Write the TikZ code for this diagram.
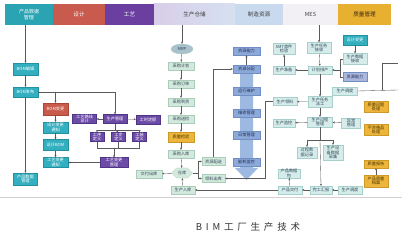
\documentclass[tikz,border=0pt]{standalone}
\usepackage{fontspec}
\setmainfont{Noto Sans CJK SC}
\usetikzlibrary{arrows.meta,shapes.geometric,shapes.symbols}
\definecolor{tfill}{HTML}{33AFC0}\definecolor{tdraw}{HTML}{2390A0}
\definecolor{rfill}{HTML}{C95B4D}\definecolor{rdraw}{HTML}{A84536}
\definecolor{pfill}{HTML}{6C4BA6}\definecolor{pdraw}{HTML}{4F3585}
\definecolor{gfill}{HTML}{D3E9DD}\definecolor{gdraw}{HTML}{A9CDB9}\definecolor{gtext}{HTML}{2F4858}
\definecolor{bfill}{HTML}{8DA9D9}\definecolor{bdraw}{HTML}{6F8FC4}\definecolor{btext}{HTML}{1F2F55}
\definecolor{bandc}{HTML}{9DB9E2}
\definecolor{ofill}{HTML}{EDB53C}\definecolor{odraw}{HTML}{CC9A28}\definecolor{otext}{HTML}{4A3500}
\definecolor{mfill}{HTML}{D5ECEA}\definecolor{mdraw}{HTML}{A5D0CC}
\definecolor{lc}{HTML}{5A5A5A}
\definecolor{h1c}{HTML}{2AA3B3}\definecolor{h2c}{HTML}{C85A4E}\definecolor{h3c}{HTML}{6A3FA0}
\definecolor{h4l}{HTML}{D8CEEA}\definecolor{h4r}{HTML}{D6E0F0}\definecolor{h5c}{HTML}{C9D9EE}
\definecolor{h6c}{HTML}{F2F0F4}\definecolor{h7c}{HTML}{E8B030}
\tikzset{
 base/.style={rectangle, inner sep=0.3pt, align=center, font=\fontsize{4.2}{4.7}\selectfont, line width=0.3pt, minimum height=8pt, minimum width=24pt},
 gbox/.style={base, fill=gfill, draw=gdraw, text=gtext},
 tbox/.style={base, fill=tfill, draw=tdraw, text=white},
 rbox/.style={base, fill=rfill, draw=rdraw, text=white},
 pbox/.style={base, fill=pfill, draw=pdraw, text=white},
 bbox/.style={base, fill=bfill, draw=bdraw, text=btext},
 obox/.style={base, fill=ofill, draw=odraw, text=otext},
 mbox/.style={base, fill=mfill, draw=mdraw, text=gtext},
 hdr/.style={rectangle, inner sep=0pt, minimum height=21pt, align=center, font=\fontsize{5.6}{6.2}\selectfont},
 arr/.style={draw=lc, line width=0.35pt, -{Stealth[length=2.2pt,width=2pt]}},
 ln/.style={draw=lc, line width=0.35pt}
}
\begin{document}
\begin{tikzpicture}[x=1pt,y=-1pt]
\useasboundingbox (0,0) rectangle (409,240);
\fill[white] (0,0) rectangle (409,240);
% header
\node[hdr, fill=h1c, text=white, minimum width=48pt, font=\fontsize{5}{5.6}\selectfont] (h1) at (29,14.5) {产品数据\\管理};
\node[hdr, fill=h2c, text=white!90!pink, minimum width=52pt] (h2) at (79,14.5) {设计};
\node[hdr, fill=h3c, text=white, minimum width=49pt] (h3) at (129.5,14.5) {工艺};
\node[hdr, left color=h4l, right color=h4r, text=black!75, minimum width=81pt] (h4) at (194.5,14.5) {生产仓储};
\node[hdr, fill=h5c, text=black!75, minimum width=48pt] (h5) at (259,14.5) {制造资源};
\node[hdr, fill=h6c, text=black!75, minimum width=55pt] (h6) at (310.5,14.5) {MES};
\node[hdr, fill=h7c, text=black!70!brown, minimum width=53pt] (h7) at (364.5,14.5) {质量管理};
% bottom rule of the picture
\draw[black!18, line width=1.5pt] (0,197.5) -- (402,197.5);
% left column
\node[tbox, minimum width=25pt, minimum height=12pt] (bomE) at (25.5,69) {BOM编辑};
\node[tbox, minimum width=25pt, minimum height=10pt] (bomP) at (25.5,92) {BOM发布};
\node[tbox, minimum width=24pt, minimum height=12pt] (pdm) at (25.5,179) {产品数据\\管理};
\node[rbox, minimum width=25pt, minimum height=12pt] (red) at (55.5,109) {BOM变更};
\node[tbox, minimum width=25pt, minimum height=11pt] (t2) at (55.5,127.5) {设计变更\\通知};
\node[tbox, minimum width=25pt, minimum height=11pt] (t3) at (55.5,145) {设计BOM};
\node[tbox, minimum width=25pt, minimum height=10pt] (t4) at (55.5,162.5) {工艺变更\\通知};
% purple
\node[pbox, minimum height=9pt] (pm) at (115,119) {生产管理};
\node[pbox, minimum height=9pt] (pl) at (84.5,119) {工艺路线\\设计};
\node[pbox, minimum height=9pt] (pr) at (148,119.5) {工时定额};
\node[pbox, minimum width=14pt, minimum height=9pt] (s1) at (97,137) {工序\\定义};
\node[pbox, minimum width=14pt, minimum height=9pt] (s2) at (118.5,137) {工步\\定义};
\node[pbox, minimum width=14pt, minimum height=9pt] (s3) at (139.5,137) {工装\\定义};
\node[pbox, minimum width=28pt, minimum height=10pt] (pb) at (114,162.5) {工艺变更\\管理};
% warehouse column
\node[ellipse, fill=black!10!gfill!60!bfill, draw=gdraw, line width=0.3pt, minimum width=22pt, minimum height=10pt, inner sep=0pt, font=\fontsize{4.2}{4.7}\selectfont, text=gtext] (mrp) at (182,49) {MRP};
\node[gbox, minimum width=26pt] (g1) at (181,66) {采购计划};
\node[gbox, minimum width=26pt] (g2) at (181,84) {采购订单};
\node[gbox, minimum width=26pt] (g3) at (181,102) {采购到货};
\node[gbox, minimum width=26pt] (g4) at (181,119) {采购送检};
\node[obox, minimum width=26pt, minimum height=10pt] (q) at (181,137) {质量检验};
\node[gbox, minimum width=26pt] (g5) at (181,154) {采购入库};
\node[shape=signal, signal to=east and west, fill=gfill, draw=gdraw, line width=0.3pt, minimum width=21pt, minimum height=10pt, inner sep=0.5pt, font=\fontsize{4.2}{4.7}\selectfont, text=gtext] (wh) at (182,173) {仓库};
\node[gbox, minimum width=24pt] (g6) at (183,190) {生产入库};
\node[gbox, minimum width=26pt] (out) at (149,174) {交付出库};
\node[gbox, minimum width=23pt] (r1) at (213.5,161.5) {资源配送};
\node[gbox, minimum width=23pt] (r2) at (213.5,178.5) {领料出库};
% resource column
\fill[bandc] (240,73) -- (253,73) -- (253,168) -- (258,168) -- (246.5,180) -- (235,168) -- (240,168) -- cycle;
\node[bbox, minimum width=27pt] (b0) at (246.5,51) {资源能力};
\node[bbox, minimum width=27pt] (b1) at (246.5,69) {资源分配};
\node[bbox, minimum width=27pt] (b2) at (246.5,91) {运行维护};
\node[bbox, minimum width=27pt] (b3) at (246.5,113) {维修管理};
\node[bbox, minimum width=27pt] (b4) at (246.5,135) {日常管理};
\node[bbox, minimum width=27pt] (b5) at (246.5,162) {能耗监控};
% MES
\node[mbox, minimum height=11pt] (m1) at (319,48) {生产任务\\接收};
\node[mbox] (m2) at (320,70) {计划排产};
\node[mbox, minimum width=22pt] (m3) at (284,70) {生产准备};
\node[mbox, minimum width=22pt, minimum height=11pt] (m4) at (284,49) {SMT首件\\检验};
\node[tbox, minimum height=10pt] (m5) at (355,40) {设计变更};
\node[mbox, minimum height=11pt] (m6) at (355,59) {生产数据\\接收};
\node[bbox, fill=bfill!80!pfill!70!white, minimum height=9pt] (m7) at (355,77) {资源能力};
\node[mbox, minimum width=25pt] (m8) at (345,91) {生产调度};
\node[mbox, minimum height=11pt] (m9) at (320,102) {生产任务\\派工};
\node[mbox] (m10) at (285,101.5) {生产领料};
\node[mbox, minimum width=25pt, minimum height=10pt] (m11) at (320,122) {生产过程\\管理};
\node[mbox, minimum width=22pt] (m12) at (284,123) {生产监控};
\node[mbox, minimum width=19pt, minimum height=10pt] (m13) at (351,123) {异常\\管理};
\node[mbox, minimum width=20pt, minimum height=11pt] (m14) at (307,152.5) {过程数\\据记录};
\node[mbox, minimum width=20pt, minimum height=15pt] (m15) at (333,152.5) {生产设\\备数据\\采集};
\node[mbox, minimum width=22pt, minimum height=8pt] (m16) at (289,173.5) {产品数据\\包};
\node[mbox] (m17) at (290,190) {产品交付};
\node[mbox, minimum width=22pt] (m18) at (321,190) {完工汇报};
\node[mbox] (m19) at (350,190) {生产调度};
% quality
\node[obox, minimum height=11pt] (k1) at (376,107) {质量问题\\处理};
\node[obox, minimum height=11pt] (k2) at (376,130) {不合格品\\处理};
\node[obox] (k3) at (376,164) {质量报告};
\node[obox, minimum height=12pt] (k4) at (376,181) {产品质量\\档案};
% coordinates
\coordinate (sp) at (115,130);
\coordinate (jn) at (115,148);
\coordinate (wb) at (198,173);
\coordinate (mb) at (340,70);
\coordinate (eb) at (320,140);
\coordinate (e1) at (398,90);
\coordinate (e2) at (398,63);
\coordinate (ev) at (382,90);
% connectors left
\draw[arr] (bomE.north |- h1.south) -- (bomE.north);
\draw[arr] (bomE) -- (bomP);
\draw[arr] (bomP) -- (pdm);
\draw[arr] (bomP.east) -| (pm.north);
\draw[arr] (red.north |- bomP.east) -- (red.north);
\draw[arr] (red) -- (t2);
\draw[arr] (t2) -- (t3);
\draw[arr] (t3) -- (t4);
\draw[arr] (pm) -- (pl);
\draw[arr] (pm) -- (pr);
\draw[ln] (pm.south) -- (sp);
\draw[ln] (s1.north |- sp) -- (s3.north |- sp);
\draw[arr] (s1.north |- sp) -- (s1.north);
\draw[arr] (sp) -- (s2.north);
\draw[arr] (s3.north |- sp) -- (s3.north);
\draw[ln] (s1.south) -- (s1.south |- jn) -- (s3.south |- jn) -- (s3.south);
\draw[ln] (s2.south) -- (s2.south |- jn);
\draw[arr] (pb.north |- jn) -- (pb.north);
\draw[arr] (pb.west) -- (t4.east);
% warehouse
\draw[arr] (mrp.north |- h4.south) -- (mrp.north);
\draw[arr] (mrp) -- (g1);
\draw[arr] (g1) -- (g2);
\draw[arr] (g2) -- (g3);
\draw[arr] (g3) -- (g4);
\draw[arr] (g4) -- (q);
\draw[arr] (q) -- (g5);
\draw[arr] (g5) -- (wh);
\draw[arr] (g6) -- (wh);
\draw[arr] (wh) -- (out);
\draw[ln] (wh.east) -- (wb);
\draw[ln] (wb |- r1.west) -- (wb |- r2.west);
\draw[arr] (wb |- r1.west) -- (r1.west);
\draw[arr] (wb |- r2.west) -- (r2.west);
\draw[arr] (r1.north) |- (b1.west);
\draw[arr] (b1) -- (b0);
% MES
\draw[arr] (m1.north |- h6.south) -- (m1.north);
\draw[arr] (m1) -- (m2);
\draw[arr] (m2) -- (m3);
\draw[arr] (m3) -- (m4);
\draw[arr] (m5) -- (m6);
\draw[ln] (m6.west) -| (mb);
\draw[ln] (m7.west) -| (mb);
\draw[arr] (mb) -- (m2.east);
\draw[arr] (m2) -- (m9);
\draw[arr] (m9) -- (m10);
\draw[arr] (m10.west) -- ++(-8,0) |- (r2.east);
\draw[arr] (m9) -- (m11);
\draw[arr] (m11) -- (m12);
\draw[arr] (m13) -- (m11);
\draw[ln] (m11.south) -- (eb);
\draw[ln] (m14.north |- eb) -- (m15.north |- eb);
\draw[arr] (m14.north |- eb) -- (m14.north);
\draw[arr] (m15.north |- eb) -- (m15.north);
\draw[arr] (eb) -- (m18.north);
\draw[arr] (m19) -- (m18);
\draw[arr] (m18) -- (m17);
\draw[arr] (m17) -- (m16);
\draw[arr] (m17) -- (g6);
\draw[ln] (m8.east) -- (e1);
\draw[ln] (ev) |- (e2);
\draw[arr] (k4) -- (k3);
% caption
\node[font=\fontsize{9.5}{11}\selectfont\addfontfeature{LetterSpace=40}, text=black!80] (cap) at (248,227) {BIM工厂生产技术};
\end{tikzpicture}
\end{document}
